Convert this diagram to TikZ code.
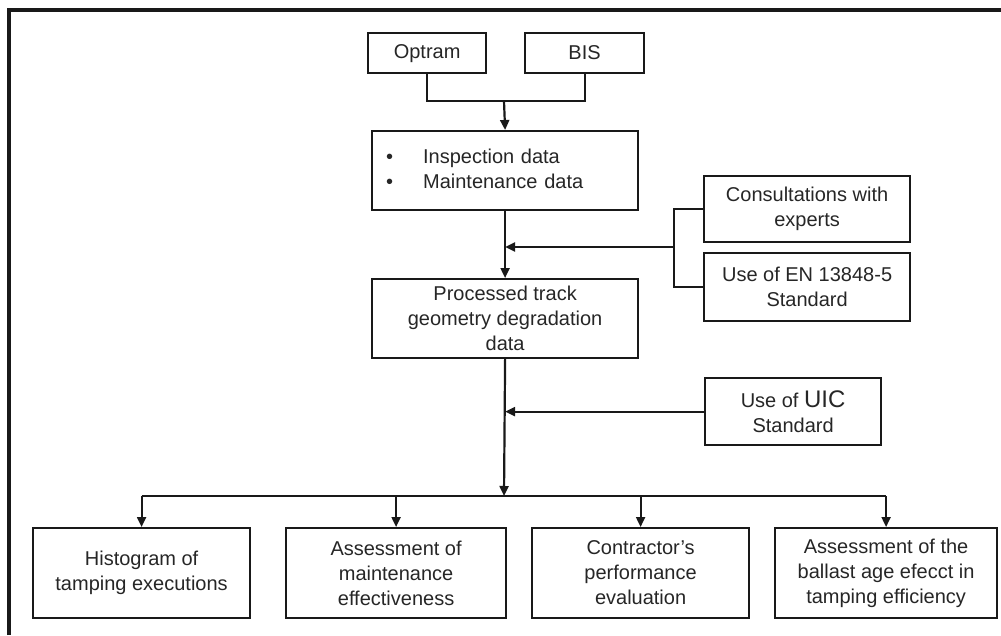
\documentclass[tikz,border=0pt]{standalone}
\usepackage{fontspec}
\setmainfont{Liberation Sans}
\usetikzlibrary{arrows.meta}
\begin{document}
\begin{tikzpicture}[x=1pt,y=-1pt,
  box/.style={draw=black!90, line width=2.2pt, anchor=north west, align=center, inner sep=2pt,
    text=black!85, font=\fontsize{20pt}{25pt}\selectfont},
  conn/.style={line width=2.2pt, draw=black!90},
  arr/.style={conn, -{Triangle[length=10pt,width=9pt]}}]
\useasboundingbox (0,0) rectangle (1001,635);
% frame
\draw[line width=3.2pt, black!90] (9,635) -- (9,10) -- (1001,10);
% top nodes
\node[box, minimum width=118pt, minimum height=40pt] (optram) at (367,32) {Optram};
\node[box, minimum width=119pt, minimum height=40pt] (bis) at (524,32) {BIS};
\node[box, minimum width=266pt, minimum height=79pt, inner xsep=14pt, text width=238pt, align=left] (insp) at (371,130)
  {\begin{tabular}{@{}l@{\hspace{30pt}}l@{}}\textbullet & Inspection data\\ \textbullet & Maintenance data\end{tabular}};
\node[box, minimum width=266pt, minimum height=79pt] (proc) at (371,278)
  {Processed track\\geometry degradation\\data};
\node[box, minimum width=206pt, minimum height=66pt] (cons) at (703,175) {Consultations with\\experts};
\node[box, minimum width=206pt, minimum height=68pt] (en) at (703,252) {Use of EN 13848-5\\Standard};
\node[box, minimum width=176pt, minimum height=67pt] (uic) at (704,377)
  {Use of {\fontsize{24pt}{25pt}\selectfont UIC}\\Standard};
% bottom nodes
\node[box, minimum width=217pt, minimum height=90pt] (b1) at (32,527) {Histogram of\\tamping executions};
\node[box, minimum width=220pt, minimum height=90pt] (b2) at (285,527) {Assessment of\\maintenance\\effectiveness};
\node[box, minimum width=217pt, minimum height=90pt] (b3) at (531,527) {Contractor’s\\performance\\evaluation};
\node[box, minimum width=222pt, minimum height=90pt] (b4) at (774,527) {Assessment of the\\ballast age efecct in\\tamping efficiency};
% connectors
\coordinate (j1) at (504,101);
\draw[conn] (optram.south) |- (j1) -| (bis.south);
\draw[arr] (j1) -- (insp.north);
\draw[arr] (insp.south) -- (proc.north);
\coordinate (j2) at (674,247);
\draw[conn] (cons.west) -| (j2) |- (en.west);
\draw[arr] (j2) -- (j2 -| insp.south);
\coordinate (bus) at (504,496);
\draw[arr] (proc.south) -- (bus);
\draw[arr] (uic.west) -- (uic.west -| proc.south);
\draw[conn] (bus -| b1.north) -- (bus -| b4.north);
\draw[arr] (bus -| b1.north) -- (b1.north);
\draw[arr] (bus -| b2.north) -- (b2.north);
\draw[arr] (bus -| b3.north) -- (b3.north);
\draw[arr] (bus -| b4.north) -- (b4.north);
\end{tikzpicture}
\end{document}
